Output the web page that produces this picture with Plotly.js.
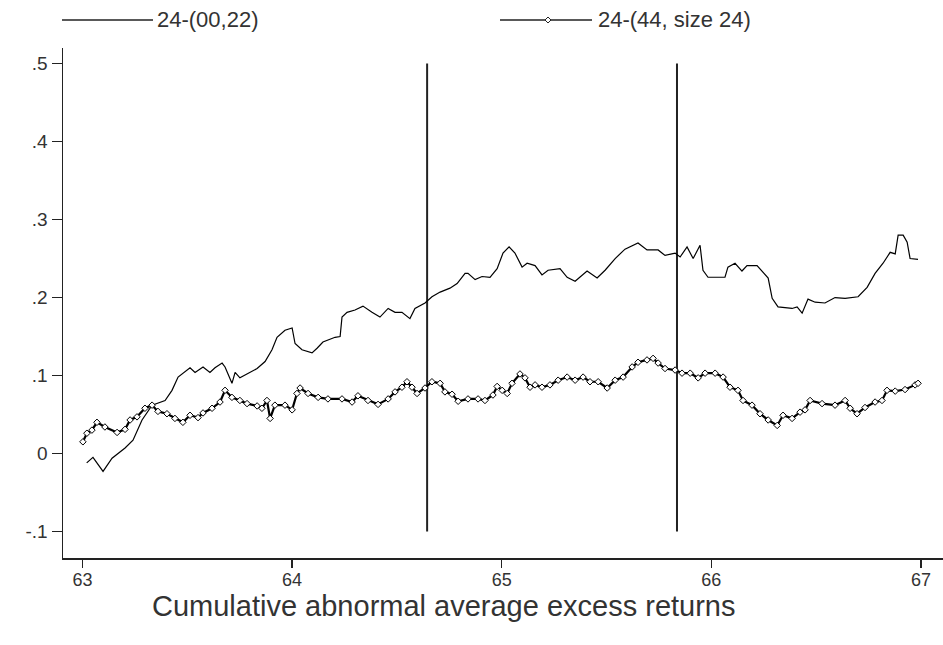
<!DOCTYPE html>
<html>
<head>
<meta charset="utf-8">
<script src="https://cdn.plot.ly/plotly-3.0.1.min.js"></script>
<style>html,body{margin:0;padding:0;background:#fff}#chart{width:943px;height:645px}</style>
</head>
<body>
<div id="chart"></div>
<script>
// Series 1: 24-(00,22)  (time in years, value)
const s1Time = [63.020,63.050,63.098,63.141,63.203,63.241,63.284,63.332,63.394,63.427,63.456,63.513,63.537,63.575,63.608,63.632,63.666,63.680,63.713,63.728,63.751,63.790,63.833,63.871,63.904,63.928,63.966,64.000,64.014,64.047,64.095,64.119,64.147,64.205,64.229,64.238,64.262,64.300,64.338,64.381,64.419,64.458,64.491,64.524,64.562,64.586,64.634,64.667,64.706,64.753,64.787,64.825,64.839,64.873,64.906,64.944,64.978,65.006,65.035,65.063,65.097,65.121,65.159,65.192,65.221,65.278,65.312,65.350,65.407,65.455,65.493,65.541,65.588,65.650,65.693,65.746,65.779,65.827,65.851,65.884,65.913,65.946,65.960,65.984,66.065,66.079,66.113,66.146,66.170,66.218,66.271,66.290,66.318,66.385,66.409,66.433,66.461,66.495,66.542,66.590,66.638,66.700,66.743,66.781,66.819,66.853,66.877,66.891,66.915,66.934,66.948,66.986];
const s1Value = [-0.012,-0.005,-0.023,-0.006,0.007,0.017,0.043,0.062,0.068,0.081,0.098,0.110,0.104,0.111,0.104,0.110,0.116,0.111,0.090,0.104,0.097,0.103,0.109,0.118,0.133,0.149,0.158,0.161,0.141,0.133,0.129,0.135,0.143,0.149,0.150,0.175,0.181,0.184,0.189,0.181,0.175,0.186,0.181,0.181,0.173,0.186,0.193,0.201,0.207,0.212,0.218,0.231,0.231,0.223,0.227,0.226,0.237,0.257,0.265,0.257,0.239,0.244,0.241,0.229,0.235,0.237,0.226,0.221,0.234,0.225,0.235,0.250,0.262,0.270,0.261,0.261,0.254,0.257,0.252,0.265,0.250,0.267,0.235,0.226,0.226,0.239,0.244,0.234,0.241,0.241,0.225,0.199,0.188,0.186,0.188,0.180,0.198,0.194,0.193,0.200,0.199,0.201,0.213,0.231,0.244,0.258,0.256,0.280,0.280,0.271,0.250,0.249];

// Series 2: 24-(44, size 24)
const s2Time = [63.002,63.021,63.045,63.069,63.107,63.165,63.203,63.227,63.260,63.298,63.332,63.360,63.403,63.441,63.479,63.513,63.551,63.575,63.618,63.656,63.680,63.713,63.751,63.785,63.833,63.856,63.880,63.895,63.918,63.966,64.000,64.023,64.038,64.076,64.124,64.171,64.238,64.286,64.314,64.362,64.410,64.458,64.491,64.524,64.548,64.572,64.596,64.634,64.667,64.706,64.729,64.763,64.792,64.839,64.887,64.920,64.958,64.978,65.002,65.026,65.049,65.087,65.111,65.135,65.159,65.192,65.230,65.269,65.312,65.350,65.388,65.421,65.460,65.503,65.541,65.579,65.622,65.650,65.693,65.722,65.746,65.779,65.827,65.860,65.899,65.937,65.970,66.018,66.056,66.089,66.127,66.151,66.194,66.232,66.271,66.314,66.342,66.385,66.423,66.447,66.471,66.528,66.590,66.638,66.662,66.695,66.733,66.781,66.814,66.838,66.877,66.924,66.972,66.986];
const s2Value = [0.015,0.026,0.030,0.040,0.034,0.027,0.031,0.043,0.047,0.058,0.062,0.054,0.051,0.045,0.040,0.049,0.046,0.052,0.058,0.066,0.081,0.072,0.068,0.064,0.061,0.058,0.068,0.045,0.062,0.062,0.056,0.077,0.084,0.077,0.072,0.070,0.070,0.066,0.074,0.068,0.063,0.070,0.079,0.085,0.092,0.085,0.077,0.084,0.092,0.090,0.079,0.076,0.067,0.070,0.070,0.068,0.075,0.086,0.081,0.077,0.090,0.102,0.097,0.085,0.088,0.085,0.088,0.094,0.098,0.094,0.098,0.092,0.092,0.084,0.094,0.098,0.111,0.117,0.120,0.122,0.116,0.109,0.107,0.103,0.103,0.097,0.103,0.103,0.098,0.085,0.081,0.068,0.062,0.051,0.043,0.036,0.049,0.045,0.053,0.056,0.068,0.064,0.062,0.068,0.058,0.051,0.059,0.066,0.068,0.081,0.080,0.082,0.088,0.090];

// Event markers (vertical lines)
const eventTimes = [64.644, 65.836];
const eventLow = -0.1, eventHigh = 0.5;

// Axis ticks
const xTickVals = [63, 64, 65, 66, 67];
const xTickText = ['63', '64', '65', '66', '67'];
const yTickVals = [-0.1, 0, 0.1, 0.2, 0.3, 0.4, 0.5];
const yTickText = ['-.1', '0', '.1', '.2', '.3', '.4', '.5'];

const seriesNames = ['24-(00,22)', '24-(44, size 24)'];
const chartTitle = 'Cumulative abnormal average excess returns';

const FONT = 'Liberation Sans, Arial, sans-serif';

const traces = [];
eventTimes.forEach(t => {
  traces.push({x: [t, t], y: [eventLow, eventHigh], mode: 'lines', line: {color: '#222', width: 2}, showlegend: false, hoverinfo: 'skip'});
});
traces.push({x: s1Time, y: s1Value, name: seriesNames[0], mode: 'lines', line: {color: '#000', width: 1.2}, showlegend: false});
traces.push({x: s2Time, y: s2Value, name: seriesNames[1], mode: 'lines+markers', line: {color: '#000', width: 2.2},
  marker: {symbol: 'diamond', size: 5, color: '#fff', line: {color: '#000', width: 1}}, showlegend: false});

// custom legend in paper coordinates
const W = 880, H = 510;
const px = v => (v - 63) / W;
const py = v => (558 - v) / H;
const legY = py(20);
const dX = px(548), dy = 3 / H, dxp = 3 / W;

const layout = {
  width: 943, height: 645,
  margin: {l: 63, r: 0, t: 48, b: 87},
  paper_bgcolor: '#fff', plot_bgcolor: '#fff',
  showlegend: false,
  font: {family: FONT, color: '#333'},
  xaxis: {
    range: [62.907, 67.105], showgrid: false, zeroline: false,
    showline: true, linecolor: '#222', linewidth: 1.5,
    ticks: 'outside', ticklen: 8, tickwidth: 1.5, tickcolor: '#222',
    ticklabelstandoff: -3,
    tickvals: xTickVals, ticktext: xTickText,
    tickfont: {family: FONT, size: 18, color: '#333'}
  },
  yaxis: {
    range: [-0.134, 0.520], showgrid: false, zeroline: false,
    showline: true, linecolor: '#222', linewidth: 1.5,
    ticks: 'outside', ticklen: 10, tickwidth: 1.5, tickcolor: '#222',
    tickvals: yTickVals, ticktext: yTickText,
    tickfont: {family: FONT, size: 19, color: '#333'}
  },
  shapes: [
    {type: 'line', xref: 'paper', yref: 'paper', x0: px(62), x1: px(153), y0: legY, y1: legY, line: {color: '#222', width: 1.5}},
    {type: 'line', xref: 'paper', yref: 'paper', x0: px(500), x1: px(592), y0: legY, y1: legY, line: {color: '#222', width: 1.5}},
    {type: 'path', xref: 'paper', yref: 'paper',
      path: `M ${dX - dxp} ${legY} L ${dX} ${legY + dy} L ${dX + dxp} ${legY} L ${dX} ${legY - dy} Z`,
      fillcolor: '#fff', line: {color: '#222', width: 1}}
  ],
  annotations: [
    {xref: 'paper', yref: 'paper', x: px(155), y: legY, xanchor: 'left', yanchor: 'middle', showarrow: false,
      text: seriesNames[0], font: {family: FONT, size: 22, color: '#333'}},
    {xref: 'paper', yref: 'paper', x: px(596), y: legY, xanchor: 'left', yanchor: 'middle', showarrow: false,
      text: seriesNames[1], font: {family: FONT, size: 22, color: '#333'}},
    {xref: 'paper', yref: 'paper', x: px(444), y: py(606), xanchor: 'center', yanchor: 'middle', showarrow: false,
      text: chartTitle, font: {family: FONT, size: 29, color: '#333'}}
  ]
};

Plotly.newPlot('chart', traces, layout, {staticPlot: true, displayModeBar: false});
</script>
</body>
</html>
